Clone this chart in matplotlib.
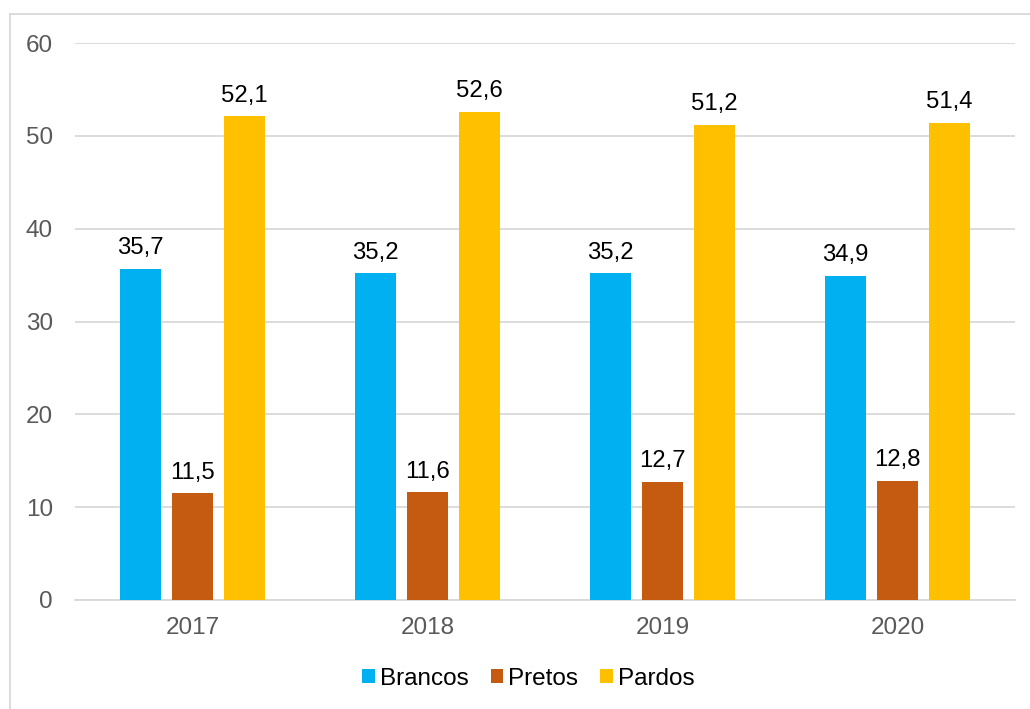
import matplotlib.pyplot as plt
from matplotlib.lines import Line2D
import numpy as np

# data
years = ['2017', '2018', '2019', '2020']
brancos = [35.7, 35.2, 35.2, 34.9]
pretos = [11.5, 11.6, 12.7, 12.8]
pardos = [52.1, 52.6, 51.2, 51.4]

plt.rcParams['font.family'] = ['Liberation Sans', 'DejaVu Sans']

fig = plt.figure(figsize=(10.3, 7.09), dpi=100)
ax = fig.add_axes([75 / 1030, 1 - 600 / 709, 940 / 1030, 557 / 709])

x = np.arange(len(years))
step = 0.222
barWidth = 0.175
series = [
    (brancos, 'Brancos', '#00B0F0', -step),
    (pretos, 'Pretos', '#C55A11', 0),
    (pardos, 'Pardos', '#FFC000', step),
]

for values, label, color, offset in series:
    bars = ax.bar(x + offset, values, width=barWidth, color=color, label=label, zorder=3)
    for b, v in zip(bars, values):
        ax.annotate(f'{v:.1f}'.replace('.', ','), (b.get_x() + b.get_width() / 2, v),
                    xytext=(0, 7), textcoords='offset points',
                    ha='center', va='bottom', fontsize=17.2, color='black')

ax.set_xlim(-0.5, len(years) - 0.5)
ax.set_ylim(0, 60)
ax.set_yticks(range(0, 61, 10))
ax.set_xticks(x)
ax.set_xticklabels(years)
ax.yaxis.grid(True, color='#D9D9D9', linewidth=1.3, zorder=0)
for s in ['top', 'right', 'left']:
    ax.spines[s].set_visible(False)
ax.spines['bottom'].set_color('#D9D9D9')
ax.spines['bottom'].set_linewidth(1.3)
ax.tick_params(axis='both', length=0, labelsize=17.5, labelcolor='#595959')
ax.tick_params(axis='y', pad=16)
ax.tick_params(axis='x', pad=12)

fig.legend(loc='center', bbox_to_anchor=(0.513, 0.043), ncol=3, frameon=False,
           fontsize=17.5, handlelength=0.53, handleheight=0.53, handletextpad=0.2,
           columnspacing=0.9)

# chart area border (only top and left visible)
fig.add_artist(Line2D([10 / 1030, 10 / 1030], [0, 1 - 14 / 709], transform=fig.transFigure,
                      color='#D9D9D9', linewidth=1.3))
fig.add_artist(Line2D([10 / 1030, 1], [1 - 14 / 709, 1 - 14 / 709], transform=fig.transFigure,
                      color='#D9D9D9', linewidth=1.3))

plt.savefig('out.png', dpi=100)
